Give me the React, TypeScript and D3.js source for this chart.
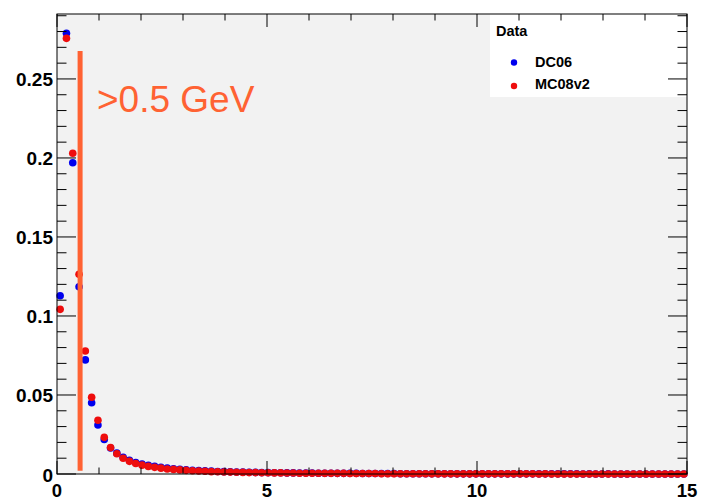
import React from "react";
import * as d3 from "d3";

// ---- data ----
const X_RANGE = [0, 15];
const Y_MAX = 0.2911;
const N_BINS = 100;

const dc06 = [
  0.1128, 0.2789, 0.1970, 0.1185, 0.0722, 0.0451, 0.0310, 0.0218, 0.0165, 0.0132,
  0.0106, 0.0087, 0.0073, 0.0063, 0.0055, 0.0048, 0.0042, 0.0037, 0.0033, 0.0030,
  0.0027, 0.0024, 0.0022, 0.0020, 0.0018, 0.0016, 0.0015, 0.0014, 0.0013, 0.0012,
  0.0011, 0.0010, 0.0009, 0.0009, 0.0008, 0.0008, 0.0007, 0.0007, 0.0006, 0.0006,
  0.0006, 0.0005, 0.0005, 0.0005, 0.0004, 0.0004, 0.0004, 0.0004, 0.0003, 0.0003,
  0.0003, 0.0003, 0.0003, 0.0003, 0.0002, 0.0002, 0.0002, 0.0002, 0.0002, 0.0002,
  0.0002, 0.0002, 0.0002, 0.0001, 0.0001, 0.0001, 0.0001, 0.0001, 0.0001, 0.0001,
  0.0001, 0.0001, 0.0001, 0.0001, 0.0001, 0.0001, 0.0001, 0.0001, 0.0001, 0.0001,
  0.0001, 0.0001, 0.0001, 0.0000, 0.0001, 0.0000, 0.0000, 0.0001, 0.0000, 0.0000,
  0.0000, 0.0000, 0.0000, 0.0000, 0.0000, 0.0000, 0.0000, 0.0000, 0.0000, 0.0000,
];

const mc08v2 = [
  0.1042, 0.2757, 0.2030, 0.1264, 0.0778, 0.0486, 0.0340, 0.0232, 0.0167, 0.0128,
  0.0100, 0.0080, 0.0066, 0.0056, 0.0048, 0.0042, 0.0037, 0.0032, 0.0029, 0.0026,
  0.0023, 0.0021, 0.0019, 0.0017, 0.0015, 0.0014, 0.0013, 0.0012, 0.0011, 0.0010,
  0.0009, 0.0009, 0.0008, 0.0008, 0.0007, 0.0007, 0.0006, 0.0006, 0.0005, 0.0005,
  0.0005, 0.0005, 0.0004, 0.0004, 0.0004, 0.0004, 0.0003, 0.0003, 0.0003, 0.0003,
  0.0003, 0.0002, 0.0002, 0.0002, 0.0002, 0.0002, 0.0002, 0.0002, 0.0002, 0.0001,
  0.0001, 0.0001, 0.0001, 0.0001, 0.0001, 0.0001, 0.0001, 0.0001, 0.0001, 0.0001,
  0.0001, 0.0001, 0.0001, 0.0001, 0.0001, 0.0001, 0.0000, 0.0001, 0.0000, 0.0000,
  0.0000, 0.0000, 0.0000, 0.0000, 0.0000, 0.0000, 0.0000, 0.0000, 0.0000, 0.0000,
  0.0000, 0.0000, 0.0000, 0.0000, 0.0000, 0.0000, 0.0000, 0.0000, 0.0000, 0.0000,
];

const xTickLabels = ["0", "5", "10", "15"];
const xTickValues = [0, 5, 10, 15];
const yTickLabels = ["0", "0.05", "0.1", "0.15", "0.2", "0.25"];
const yTickValues = [0, 0.05, 0.1, 0.15, 0.2, 0.25];

const cutX = 0.55;
const cutLine = [0.002, 0.2677];
const cutLabel = ">0.5 GeV";

const legendTitle = "Data";
const seriesNames = ["DC06", "MC08v2"];
const seriesColors = ["#0000ee", "#ee0d0d"];

// ---- layout ----
const W = 702;
const H = 502;
const M = { left: 57, right: 15, top: 14, bottom: 28 };
const ORANGE = "#ff6233";
const FONT = "'Liberation Sans', Arial, Helvetica, sans-serif";

export default function App() {
  const x = d3.scaleLinear().domain(X_RANGE).range([M.left, W - M.right]);
  const y = d3.scaleLinear().domain([0, Y_MAX]).range([H - M.bottom, M.top]);
  const binW = (X_RANGE[1] - X_RANGE[0]) / N_BINS;
  const centers = d3.range(N_BINS).map((i) => X_RANGE[0] + (i + 0.5) * binW);

  const x0 = M.left, x1 = W - M.right, y0 = H - M.bottom, y1 = M.top;

  const yMinor = d3.range(0, Y_MAX + 1e-9, 0.01);
  const xMinor = d3.range(0, 15.0001, 1);
  const isYMajor = (v: number) => Math.abs(v / 0.05 - Math.round(v / 0.05)) < 1e-6;
  const isXMajor = (v: number) => Math.abs(v / 5 - Math.round(v / 5)) < 1e-6;

  const series = [dc06, mc08v2];

  return (
    <svg
      width={W}
      height={H}
      style={{ position: "absolute", left: 0, top: 0, display: "block" }}
    >
      <rect x={0} y={0} width={W} height={H} fill="#ffffff" />
      <rect x={x0} y={y1} width={x1 - x0} height={y0 - y1} fill="#f2f2f2" />

      {series.map((s, si) => (
        <g key={si} fill={seriesColors[si]}>
          {s.map((v, i) => (
            <circle key={i} cx={x(centers[i])} cy={y(v)} r={3.8} />
          ))}
        </g>
      ))}

      <line
        x1={x(cutX)}
        x2={x(cutX)}
        y1={y(cutLine[0])}
        y2={y(cutLine[1])}
        stroke={ORANGE}
        strokeWidth={5}
      />
      <text
        x={97}
        y={112}
        fill={ORANGE}
        fontFamily={FONT}
        fontSize={37}
      >
        {cutLabel}
      </text>

      {/* legend */}
      <rect x={490} y={y1} width={x1 - 490} height={97 - y1} fill="#ffffff" />
      <text x={496} y={36} fontFamily={FONT} fontWeight="bold" fontSize={14.5} fill="#000">
        {legendTitle}
      </text>
      {seriesNames.map((n, i) => (
        <g key={n}>
          <circle cx={514} cy={62.5 + i * 23.5} r={3.2} fill={seriesColors[i]} />
          <text
            x={535}
            y={66.5 + i * 22}
            fontFamily={FONT}
            fontWeight="bold"
            fontSize={14.5}
            fill="#000"
          >
            {n}
          </text>
        </g>
      ))}

      {/* ticks */}
      <g stroke="#000" strokeWidth={1}>
        {yMinor.map((v, i) => {
          const L = isYMajor(v) ? 19 : 9.5;
          return (
            <g key={"y" + i}>
              <line x1={x0} x2={x0 + L} y1={y(v)} y2={y(v)} />
              <line x1={x1} x2={x1 - L} y1={y(v)} y2={y(v)} />
            </g>
          );
        })}
        {xMinor.map((v, i) => {
          const L = isXMajor(v) ? 13 : 6.5;
          return (
            <g key={"x" + i}>
              <line x1={x(v)} x2={x(v)} y1={y0} y2={y0 - L} />
              <line x1={x(v)} x2={x(v)} y1={y1} y2={y1 + L} />
            </g>
          );
        })}
        <rect x={x0} y={y1} width={x1 - x0} height={y0 - y1} fill="none" />
      </g>

      {/* tick labels */}
      {yTickValues.map((v, i) => (
        <text
          key={"yl" + i}
          x={x0 - 4}
          y={y(v) + 7.5}
          textAnchor="end"
          fontFamily={FONT}
          fontWeight="bold"
          fontSize={19}
          fill="#000"
        >
          {yTickLabels[i]}
        </text>
      ))}
      {xTickValues.map((v, i) => (
        <text
          key={"xl" + i}
          x={x(v)}
          y={497}
          textAnchor="middle"
          fontFamily={FONT}
          fontWeight="bold"
          fontSize={18.5}
          fill="#000"
        >
          {xTickLabels[i]}
        </text>
      ))}
    </svg>
  );
}
